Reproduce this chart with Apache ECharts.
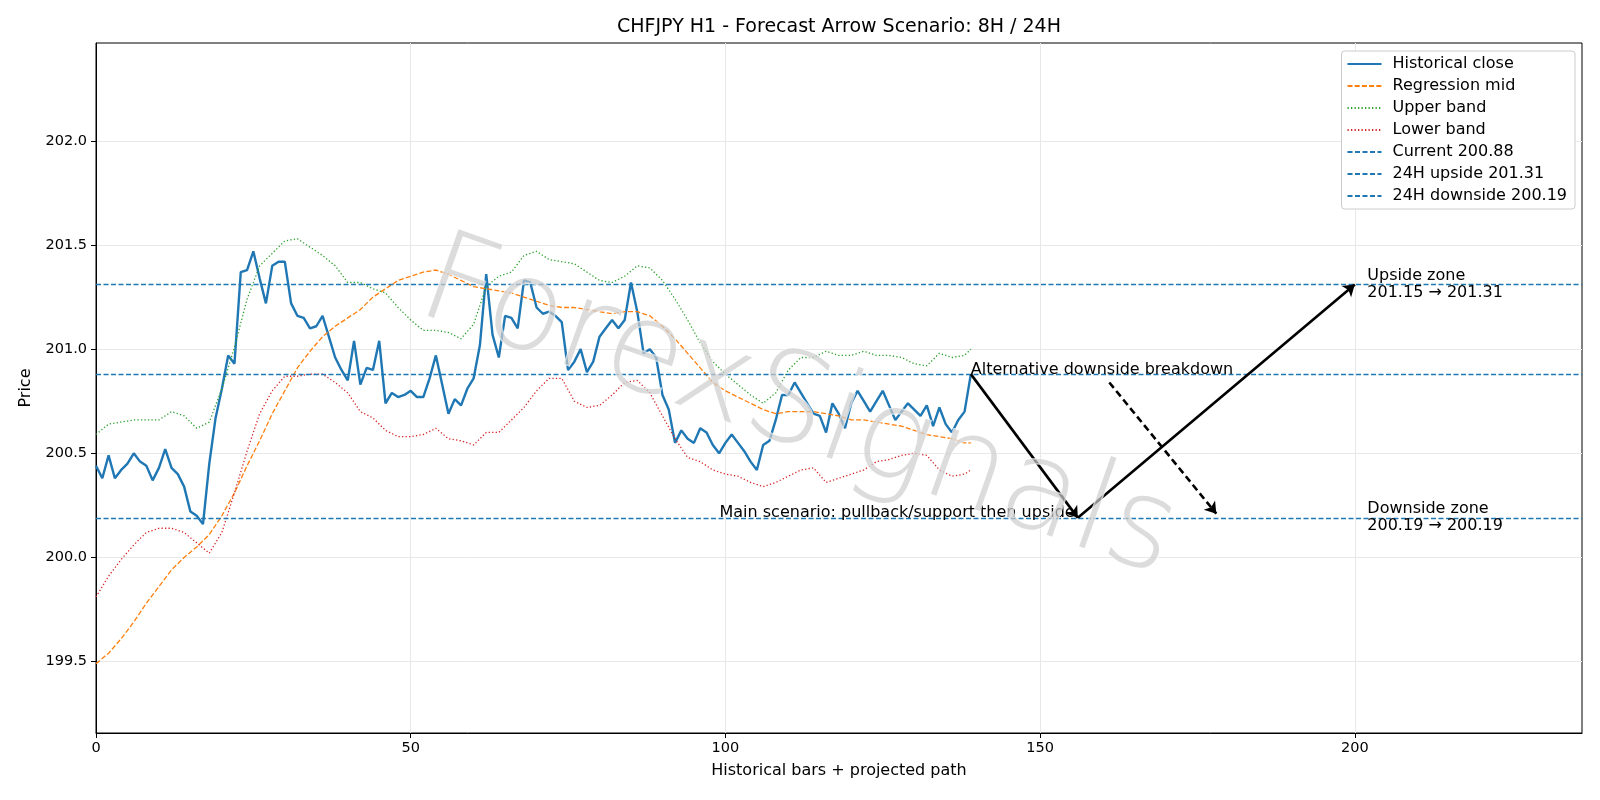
<!DOCTYPE html>
<html>
<head>
<meta charset="utf-8">
<title>CHFJPY H1 - Forecast Arrow Scenario</title>
<script src="https://cdn.jsdelivr.net/npm/echarts@6/dist/echarts.min.js"></script>
<style>
html, body { margin: 0; padding: 0; background: #fff; }
#chart { width: 1600px; height: 800px; }
</style>
</head>
<body>
<div id="chart"></div>
<script>
// historical closes, one per bar (x = bar index)
var closeValues = [
	200.44, 200.38, 200.49, 200.38, 200.42, 200.45, 200.50, 200.46, 200.44, 200.37,
	200.43, 200.52, 200.43, 200.40, 200.34, 200.22, 200.20, 200.16, 200.45, 200.67,
	200.81, 200.97, 200.93, 201.37, 201.38, 201.47, 201.34, 201.22, 201.40, 201.42,
	201.42, 201.22, 201.16, 201.15, 201.10, 201.11, 201.16, 201.06, 200.96, 200.90,
	200.85, 201.04, 200.83, 200.91, 200.90, 201.04, 200.74, 200.79, 200.77, 200.78,
	200.80, 200.77, 200.77, 200.86, 200.97, 200.83, 200.69, 200.76, 200.73, 200.81,
	200.86, 201.02, 201.36, 201.07, 200.96, 201.16, 201.15, 201.10, 201.33, 201.32,
	201.20, 201.17, 201.18, 201.16, 201.13, 200.90, 200.94, 201.00, 200.89, 200.94,
	201.06, 201.10, 201.14, 201.10, 201.14, 201.32, 201.18, 200.98, 201.00, 200.96,
	200.78, 200.71, 200.55, 200.61, 200.57, 200.55, 200.62, 200.60, 200.54, 200.50,
	200.55, 200.59, 200.55, 200.51, 200.46, 200.42, 200.54, 200.56, 200.66, 200.78,
	200.78, 200.84, 200.79, 200.74, 200.69, 200.68, 200.60, 200.74, 200.69, 200.62,
	200.74, 200.80, 200.75, 200.70, 200.75, 200.80, 200.73, 200.66, 200.70, 200.74,
	200.71, 200.68, 200.73, 200.63, 200.72, 200.64, 200.60, 200.66, 200.70, 200.88
];

// regression channel, read every second bar
var bandX = [
	0, 2, 4, 6, 8, 10, 12, 14, 16, 18, 20, 22, 24, 26, 28, 30, 32, 34, 36, 38,
	40, 42, 44, 46, 48, 50, 52, 54, 56, 58, 60, 62, 64, 66, 68, 70, 72, 74, 76, 78,
	80, 82, 84, 86, 88, 90, 92, 94, 96, 98, 100, 102, 104, 106, 108, 110, 112, 114, 116, 118,
	120, 122, 124, 126, 128, 130, 132, 134, 136, 138, 139
];
var midValues = [
	199.49, 199.54, 199.61, 199.69, 199.78, 199.86, 199.94, 200.00, 200.05, 200.11,
	200.20, 200.31, 200.44, 200.56, 200.69, 200.80, 200.91, 200.99, 201.06, 201.11,
	201.15, 201.19, 201.25, 201.29, 201.33, 201.35, 201.37, 201.38, 201.36, 201.33,
	201.30, 201.29, 201.28, 201.27, 201.25, 201.23, 201.21, 201.20, 201.20, 201.19,
	201.18, 201.17, 201.18, 201.18, 201.16, 201.11, 201.05, 200.98, 200.91, 200.84,
	200.80, 200.77, 200.74, 200.71, 200.69, 200.70, 200.70, 200.70, 200.69, 200.68,
	200.66, 200.66, 200.65, 200.64, 200.63, 200.61, 200.59, 200.58, 200.57, 200.55,
	200.55
];
var upperValues = [
	200.59, 200.64, 200.65, 200.66, 200.66, 200.66, 200.70, 200.68, 200.62, 200.65,
	200.81, 201.01, 201.24, 201.40, 201.46, 201.52, 201.53, 201.49, 201.45, 201.40,
	201.32, 201.32, 201.29, 201.27, 201.20, 201.14, 201.09, 201.09, 201.08, 201.05,
	201.12, 201.30, 201.35, 201.37, 201.45, 201.47, 201.43, 201.42, 201.41, 201.37,
	201.33, 201.32, 201.35, 201.40, 201.39, 201.33, 201.24, 201.14, 201.03, 200.94,
	200.88, 200.83, 200.78, 200.74, 200.79, 200.90, 200.96, 200.96, 200.99, 200.97,
	200.97, 200.99, 200.97, 200.97, 200.96, 200.93, 200.92, 200.98, 200.96, 200.97,
	201.00
];
var lowerValues = [
	199.81, 199.91, 199.99, 200.06, 200.12, 200.14, 200.14, 200.12, 200.07, 200.02,
	200.12, 200.31, 200.51, 200.69, 200.80, 200.87, 200.87, 200.88, 200.88, 200.84,
	200.79, 200.70, 200.67, 200.61, 200.58, 200.58, 200.59, 200.62, 200.57, 200.56,
	200.54, 200.60, 200.60, 200.66, 200.72, 200.80, 200.86, 200.86, 200.75, 200.72,
	200.73, 200.78, 200.84, 200.85, 200.79, 200.68, 200.57, 200.48, 200.46, 200.42,
	200.40, 200.39, 200.36, 200.34, 200.36, 200.39, 200.42, 200.43, 200.36, 200.38,
	200.40, 200.42, 200.46, 200.47, 200.49, 200.50, 200.49, 200.42, 200.39, 200.40,
	200.42
];

var currentLevel = 200.88;
var upsideLevel = 201.31;
var downsideLevel = 200.19;

// projected path: main scenario (down then up) and the alternative break
var mainPath = [[139, 200.88], [156, 200.19], [200, 201.31]];
var altPath = [[161, 200.84], [178, 200.21]];

var xTicks = [0, 50, 100, 150, 200];
var yTicks = [199.5, 200.0, 200.5, 201.0, 201.5, 202.0];

var legendNames = ['Historical close', 'Regression mid', 'Upper band', 'Lower band',
	'Current 200.88', '24H upside 201.31', '24H downside 200.19'];

var FONT = 'DejaVu Sans';

function pairs(xs, ys) {
	var out = [];
	for (var i = 0; i < ys.length; i++) {
		out.push([xs[i], ys[i]]);
	}
	return out;
}

function levelSeries(name, level) {
	return {
		name: name,
		type: 'line',
		symbol: 'none',
		data: [],
		itemStyle: { color: '#1f77b4' },
		lineStyle: { color: '#1f77b4', width: 1.3, type: [5, 2.5] },
		markLine: {
			silent: true,
			symbol: ['none', 'none'],
			label: { show: false },
			lineStyle: { color: '#1f77b4', width: 1.3, type: [5, 2.5] },
			data: [{ yAxis: level }]
		}
	};
}

function arrowLine(a, b, dashed) {
	return [
		{
			coord: a,
			itemStyle: { color: '#000' },
			lineStyle: { color: '#000', width: 2.6, type: dashed ? [7, 4] : 'solid' }
		},
		{ coord: b, itemStyle: { color: '#000' } }
	];
}

function textPoint(pos, text, align, vAlign, offset) {
	return {
		value: pos,
		label: {
			show: true,
			position: [0, 0],
			formatter: text,
			align: align,
			verticalAlign: vAlign,
			offset: offset,
			fontFamily: FONT,
			fontSize: 16,
			lineHeight: 17,
			color: '#000',
			opacity: 1,
			textBorderWidth: 0
		}
	};
}

var closeData = [];
for (var i = 0; i < closeValues.length; i++) {
	closeData.push([i, closeValues[i]]);
}

var chart = echarts.init(document.getElementById('chart'), null, { renderer: 'canvas' });

var option = {
	animation: false,
	backgroundColor: '#fff',
	textStyle: { fontFamily: FONT },
	grid: {
		left: 96, right: 18, top: 43, bottom: 67,
		show: true, borderColor: '#000', borderWidth: 1, backgroundColor: 'transparent'
	},
	legend: {
		data: legendNames,
		orient: 'vertical',
		right: 25,
		top: 51,
		itemWidth: 34,
		itemHeight: 14,
		itemGap: 6,
		padding: [5, 8, 5, 5],
		backgroundColor: '#fff',
		borderColor: '#cccccc',
		borderWidth: 1,
		borderRadius: 3,
		selectedMode: false,
		itemStyle: { opacity: 0 },
		textStyle: { fontFamily: FONT, fontSize: 16, color: '#000', padding: [0, 0, 0, 6] }
	},
	xAxis: {
		type: 'value',
		min: 0,
		max: 236.1,
		name: 'Historical bars + projected path',
		nameLocation: 'middle',
		nameGap: 30,
		nameTextStyle: { fontFamily: FONT, fontSize: 16, color: '#000' },
		axisLine: { show: true, onZero: false, lineStyle: { color: '#000', width: 1 } },
		axisTick: { show: true, length: 5, customValues: xTicks, lineStyle: { color: '#000' } },
		axisLabel: { customValues: xTicks, margin: 8, fontFamily: FONT, fontSize: 14.5, color: '#000' },
		splitLine: { show: true, lineStyle: { color: '#e8e8e8', width: 1 } }
	},
	yAxis: {
		type: 'value',
		min: 199.157,
		max: 202.47,
		name: 'Price',
		nameLocation: 'middle',
		nameGap: 62,
		nameTextStyle: { fontFamily: FONT, fontSize: 16, color: '#000' },
		axisLine: { show: true, onZero: false, lineStyle: { color: '#000', width: 1 } },
		axisTick: { show: true, length: 5, customValues: yTicks, lineStyle: { color: '#000' } },
		axisLabel: {
			customValues: yTicks, margin: 9, fontFamily: FONT, fontSize: 14.5, color: '#000',
			formatter: function(v) { return v.toFixed(1); }
		},
		splitLine: { show: true, lineStyle: { color: '#e8e8e8', width: 1 } }
	},
	graphic: [
		{
			type: 'text', x: 839, y: 27, z: 100,
			style: {
				text: 'CHFJPY H1 - Forecast Arrow Scenario: 8H / 24H',
				font: '19px "DejaVu Sans"', fill: '#000',
				textAlign: 'center', textVerticalAlign: 'middle'
			}
		},
		{
			type: 'text', x: 798, y: 412, rotation: -0.34, z: 50,
			style: {
				text: 'ForexSignals',
				font: '200 126px "DejaVu Sans"',
				fill: 'rgba(205,205,205,0.7)',
				stroke: 'rgba(255,255,255,0.7)',
				lineWidth: 1.5,
				textAlign: 'center', textVerticalAlign: 'middle',
				shadowColor: 'rgba(0,0,0,0.14)', shadowOffsetX: 3, shadowOffsetY: 3, shadowBlur: 2
			}
		}
	],
	series: [
		{
			name: 'Historical close', type: 'line', symbol: 'none', data: closeData,
			itemStyle: { color: '#1f77b4' },
			lineStyle: { color: '#1f77b4', width: 2.4 }, z: 3
		},
		{
			name: 'Regression mid', type: 'line', symbol: 'none', data: pairs(bandX, midValues),
			itemStyle: { color: '#ff7f0e' },
			lineStyle: { color: '#ff7f0e', width: 1.3, type: [5, 2.2] }, z: 3
		},
		{
			name: 'Upper band', type: 'line', symbol: 'none', data: pairs(bandX, upperValues),
			itemStyle: { color: '#2ca02c' },
			lineStyle: { color: '#2ca02c', width: 1.3, type: [1.3, 2.2] }, z: 3
		},
		{
			name: 'Lower band', type: 'line', symbol: 'none', data: pairs(bandX, lowerValues),
			itemStyle: { color: '#d62728' },
			lineStyle: { color: '#d62728', width: 1.3, type: [1.3, 2.2] }, z: 3
		},
		levelSeries('Current 200.88', currentLevel),
		levelSeries('24H upside 201.31', upsideLevel),
		levelSeries('24H downside 200.19', downsideLevel),
		{
			name: 'arrows', type: 'line', symbol: 'none', data: [], z: 4,
			itemStyle: { color: '#000' },
			markLine: {
				silent: true,
				symbol: ['none', 'arrow'],
				symbolSize: 11,
				label: { show: false },
				itemStyle: { color: '#000' },
				data: [
					arrowLine(mainPath[0], mainPath[1], false),
					arrowLine(mainPath[1], mainPath[2], false),
					arrowLine(altPath[0], altPath[1], true)
				]
			}
		},
		{
			name: 'notes', type: 'scatter', symbolSize: 0.1, z: 5,
			itemStyle: { color: '#000' },
			silent: true,
			data: [
				textPoint([139, currentLevel], 'Alternative downside breakdown', 'left', 'bottom', [0, 4]),
				textPoint([155.5, downsideLevel], 'Main scenario: pullback/support then upside', 'right', 'bottom', [0, 4]),
				textPoint([202, upsideLevel], 'Upside zone\n201.15 \u2192 201.31', 'left', 'middle', [0, 0]),
				textPoint([202, downsideLevel], 'Downside zone\n200.19 \u2192 200.19', 'left', 'middle', [0, 0])
			]
		}
	]
};

chart.setOption(option);
</script>
</body>
</html>
